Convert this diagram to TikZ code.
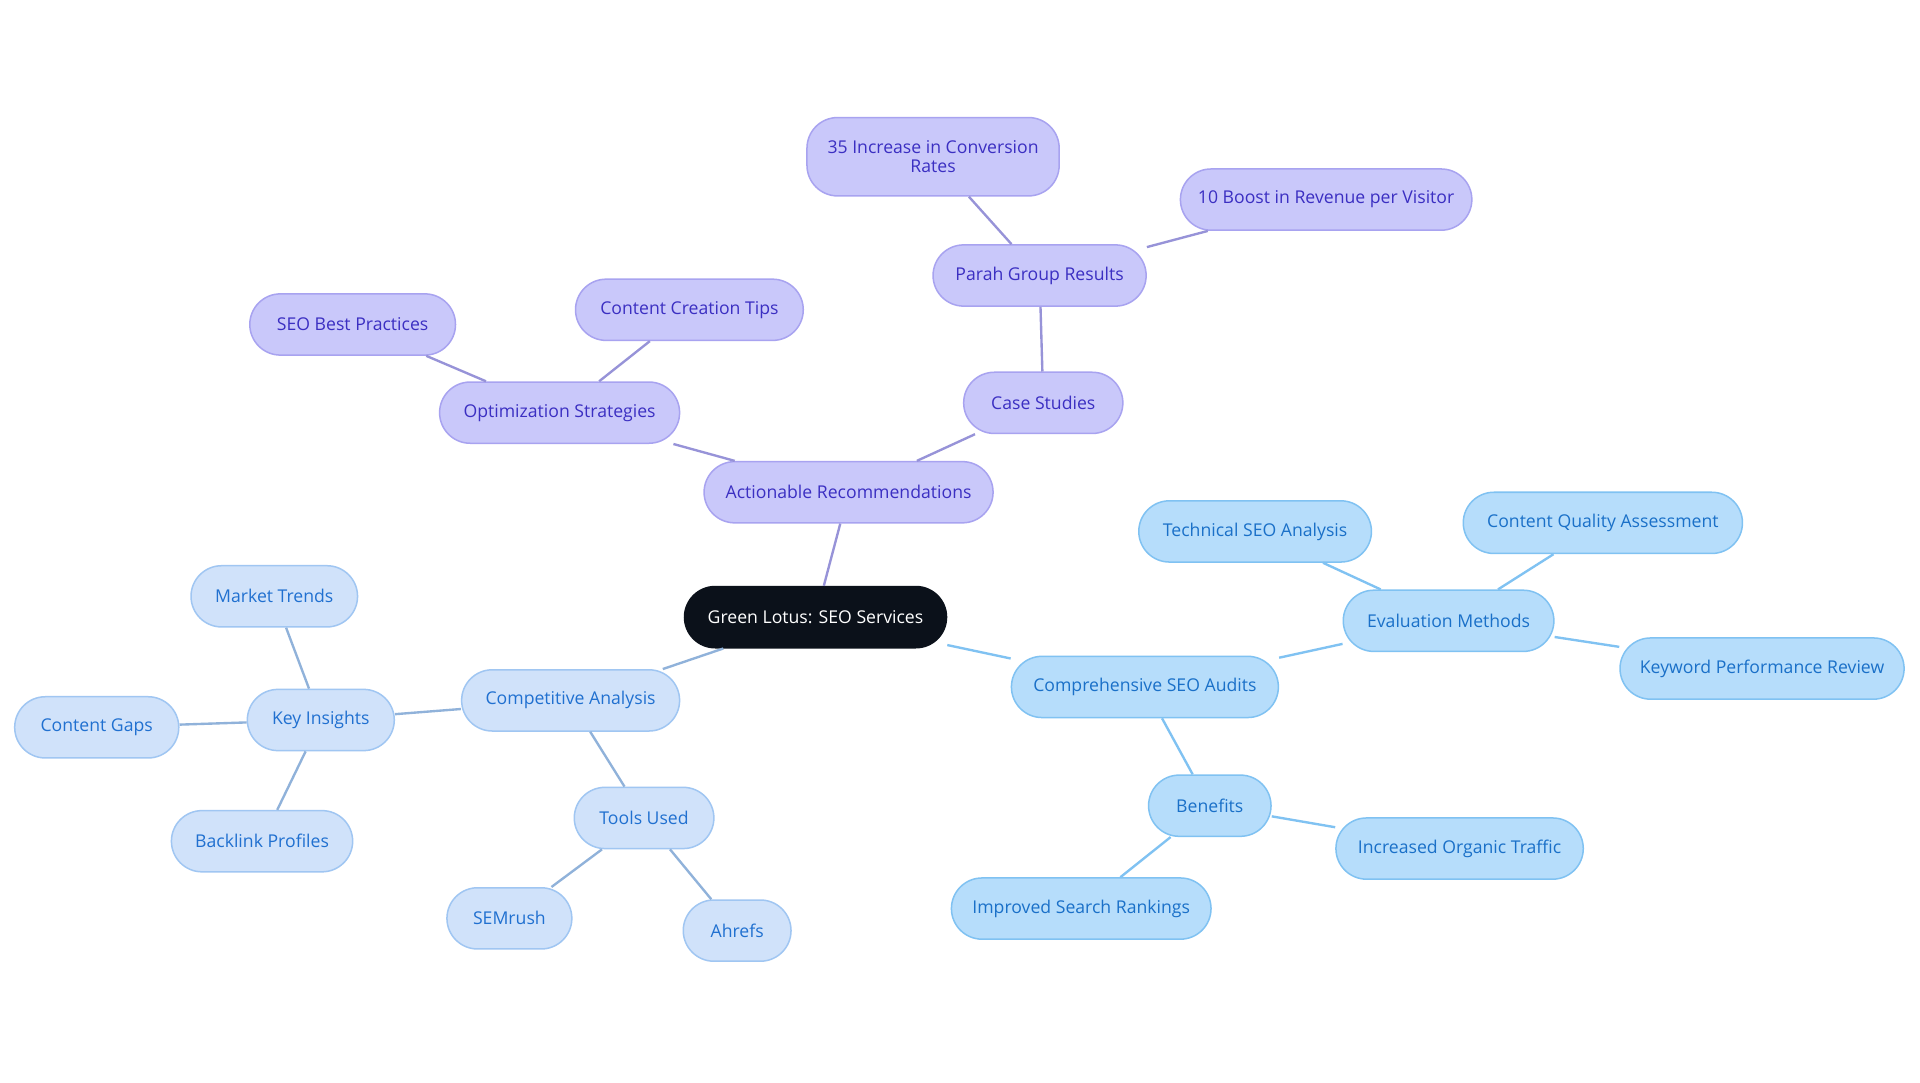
\documentclass[tikz,border=0pt]{standalone}
\usepackage{fontspec}
\setmainfont{Open Sans}
\definecolor{pf}{HTML}{C9C8FA}\definecolor{pd}{HTML}{A8A3F0}\definecolor{pt}{HTML}{3B2FC2}
\definecolor{lf}{HTML}{D0E2FA}\definecolor{ld}{HTML}{A0C6F2}\definecolor{lt}{HTML}{2070D0}
\definecolor{rf}{HTML}{B6DDFB}\definecolor{rd}{HTML}{80C2F2}\definecolor{rt}{HTML}{1A70C8}
\definecolor{cf}{HTML}{0B111A}
\tikzset{
 base/.style={rounded corners=0.5cm,minimum height=1cm,inner sep=2pt,align=center,font=\fontsize{8.2}{8.6}\selectfont,line width=0.7pt},
 pn/.style={base,fill=pf,draw=pd,text=pt},
 ln/.style={base,fill=lf,draw=ld,text=lt},
 rn/.style={base,fill=rf,draw=rd,text=rt},
 cn/.style={base,fill=cf,draw=cf,text=white},
 pe/.style={draw=pd!90!black,line width=1.1pt},
 le/.style={draw=ld!90!black,line width=1.1pt},
 re/.style={draw=rd,line width=1.1pt}}
\begin{document}
\begin{tikzpicture}[x=0.02cm,y=-0.02cm]
\useasboundingbox[fill=white] (0,0) rectangle (1568,884);
\newcommand\nd[5]{\node[#1,minimum width=#4*0.02cm] (#2) at (#3) {#5};}
\nd{cn}{c}{666,504}{214}{Green Lotus: SEO Services}
\nd{pn}{ar}{693,402}{236}{Actionable Recommendations}
\nd{pn}{os}{457,337}{196}{Optimization Strategies}
\nd{pn}{sbp}{288,265}{168}{SEO Best Practices}
\nd{pn}{cct}{563,253}{186}{Content Creation Tips}
\nd{pn}{cs}{852,329}{130}{Case Studies}
\nd{pn}{pgr}{849,225}{174}{Parah Group Results}
\node[pn,minimum width=4.12cm,minimum height=1.28cm] (ic) at (762,128) {35 Increase in Conversion\\Rates};
\nd{pn}{br}{1083,163}{238}{10 Boost in Revenue per Visitor}
\nd{ln}{ca}{466,572}{178}{Competitive Analysis}
\nd{ln}{ki}{262,588}{120}{Key Insights}
\nd{ln}{mt}{224,487}{136}{Market Trends}
\nd{ln}{cg}{79,594}{134}{Content Gaps}
\nd{ln}{bp}{214,687}{148}{Backlink Profiles}
\nd{ln}{tu}{526,668}{114}{Tools Used}
\nd{ln}{sem}{416,750}{102}{SEMrush}
\nd{ln}{ah}{602,760}{88}{Ahrefs}
\nd{rn}{csa}{935,561}{218}{Comprehensive SEO Audits}
\nd{rn}{em}{1183,507}{172}{Evaluation Methods}
\nd{rn}{tsa}{1025,434}{190}{Technical SEO Analysis}
\nd{rn}{cqa}{1309,427}{228}{Content Quality Assessment}
\nd{rn}{kpr}{1439,546}{232}{Keyword Performance Review}
\nd{rn}{ben}{988,658}{100}{Benefits}
\nd{rn}{iot}{1192,693}{202}{Increased Organic Traffic}
\nd{rn}{isr}{883,742}{212}{Improved Search Rankings}
\begin{scope}[on background layer/.style={}]
\end{scope}
\draw[pe] (c)--(ar) (ar)--(os) (os)--(sbp) (os)--(cct) (ar)--(cs) (cs)--(pgr) (pgr)--(ic) (pgr)--(br);
\draw[le] (c)--(ca) (ca)--(ki) (ki)--(mt) (ki)--(cg) (ki)--(bp) (ca)--(tu) (tu)--(sem) (tu)--(ah);
\draw[re] (c)--(csa) (csa)--(em) (em)--(tsa) (em)--(cqa) (em)--(kpr) (csa)--(ben) (ben)--(iot) (ben)--(isr);
\end{tikzpicture}
\end{document}
